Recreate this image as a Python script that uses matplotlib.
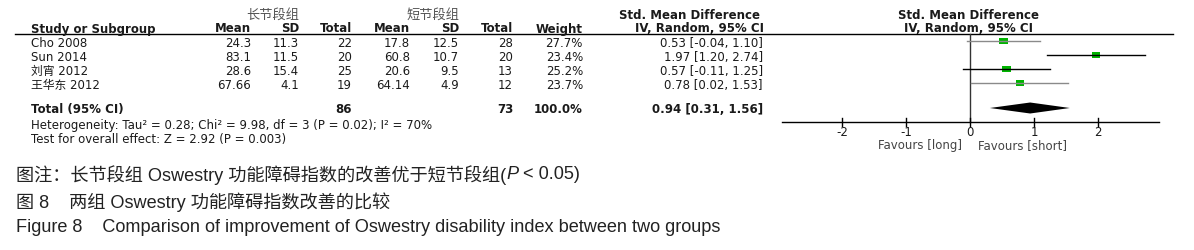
import matplotlib
matplotlib.use('Agg')
import matplotlib.pyplot as plt
from matplotlib.patches import Rectangle, Polygon

# data
studies = ['Cho 2008', 'Sun 2014', '刘宵 2012', '王华东 2012']
long_mean = ['24.3', '83.1', '28.6', '67.66']
long_sd = ['11.3', '11.5', '15.4', '4.1']
long_n = [22, 20, 25, 19]
short_mean = ['17.8', '60.8', '20.6', '64.14']
short_sd = ['12.5', '10.7', '9.5', '4.9']
short_n = [28, 20, 13, 12]
weight = [27.7, 23.4, 25.2, 23.7]
smd = [0.53, 1.97, 0.57, 0.78]
ci_lo = [-0.04, 1.20, -0.11, 0.02]
ci_hi = [1.10, 2.74, 1.25, 1.53]
ci_col = ['#8a8a8a', 'black', 'black', '#8a8a8a']
tot_smd, tot_lo, tot_hi = 0.94, 0.31, 1.56
ticks = [-2, -1, 0, 1, 2]

W, H = 1194, 251
fig = plt.figure(figsize=(W / 100, H / 100), dpi=100)
ax = fig.add_axes([0, 0, 1, 1])
ax.set_xlim(0, W)
ax.set_ylim(H, 0)
ax.axis('off')

tf = ['DejaVu Sans', 'Noto Sans CJK SC']
fs = 8.5
tc = '#1a1a1a'


def t(x, y, s, ha='left', bold=False, color=tc, size=fs, fam=tf):
    return ax.text(x, y, s, ha=ha, va='center', fontsize=size, color=color,
                   fontweight='bold' if bold else 'normal', family=fam)


# group headers
t(273, 15, '长节段组', ha='center', color='#555555', size=9.5, fam=['Noto Sans CJK SC'])
t(433, 15, '短节段组', ha='center', color='#555555', size=9.5, fam=['Noto Sans CJK SC'])
t(760, 15.5, 'Std. Mean Difference', ha='right', bold=True)
t(968, 15.5, 'Std. Mean Difference', ha='center', bold=True)

hy = 29
t(31, hy, 'Study or Subgroup', bold=True)
for x, s in [(251, 'Mean'), (299, 'SD'), (352, 'Total'), (410, 'Mean'),
             (459, 'SD'), (513, 'Total'), (583, 'Weight'),
             (764, 'IV, Random, 95% CI')]:
    t(x, hy, s, ha='right', bold=True)
t(969, hy, 'IV, Random, 95% CI', ha='center', bold=True)
ax.plot([15, 1173], [35, 35], color='black', lw=1)

rows = [43.5, 57.5, 71.5, 85.5]
for i, y in enumerate(rows):
    t(31, y, studies[i])
    t(251, y, long_mean[i], ha='right')
    t(299, y, long_sd[i], ha='right')
    t(352, y, str(long_n[i]), ha='right')
    t(410, y, short_mean[i], ha='right')
    t(459, y, short_sd[i], ha='right')
    t(513, y, str(short_n[i]), ha='right')
    t(583, y, '%.1f%%' % weight[i], ha='right')
    t(763, y, '%.2f [%.2f, %.2f]' % (smd[i], ci_lo[i], ci_hi[i]), ha='right')

ty = 110
t(31, ty, 'Total (95% CI)', bold=True)
t(352, ty, str(sum(long_n)), ha='right', bold=True)
t(513, ty, str(sum(short_n)), ha='right', bold=True)
t(583, ty, '100.0%', ha='right', bold=True)
t(763, ty, '%.2f [%.2f, %.2f]' % (tot_smd, tot_lo, tot_hi), ha='right', bold=True)
t(31, 126, 'Heterogeneity: Tau² = 0.28; Chi² = 9.98, df = 3 (P = 0.02); I² = 70%')
t(31, 140, 'Test for overall effect: Z = 2.92 (P = 0.003)')

# forest panel: x in SMD units, y in pixel rows
fx0, fx1 = 778, 1162
fa = fig.add_axes([fx0 / W, 0, (fx1 - fx0) / W, 1])
fa.set_xlim(-3, 3)
fa.set_ylim(H, 0)
fa.axis('off')
fa.plot([0, 0], [35, 123], color='#333333', lw=1)
fa.plot([-2.94, 2.96], [123, 123], color='black', lw=1)
for k in ticks:
    fa.plot([k, k], [119, 127], color='black', lw=1)
    fa.text(k, 133, str(k), ha='center', va='center', fontsize=fs, color=tc, family=tf)
fa.text(-0.12, 145.5, 'Favours [long]', ha='right', va='center', fontsize=fs,
        color='#444444', family=tf)
fa.text(0.12, 145.5, 'Favours [short]', ha='left', va='center', fontsize=fs,
        color='#444444', family=tf)

for i, y in enumerate(rows):
    ym = y - 1.5
    fa.plot([ci_lo[i], ci_hi[i]], [ym, ym], color=ci_col[i], lw=1)
    w = 0.135 * (weight[i] / 25.0) ** 0.5
    fa.add_patch(Rectangle((smd[i] - w / 2, ym - 2.6), w, 5.2, color='#00b400', lw=0))

dy = 109
fa.add_patch(Polygon([[tot_lo, dy], [tot_smd, dy - 5.5], [tot_hi, dy], [tot_smd, dy + 5.5]],
                     closed=True, color='black', lw=0))

# caption lines
cap_fam = ['Liberation Sans', 'Noto Sans CJK SC']
cs = 13.1
fig.canvas.draw()
r = fig.canvas.get_renderer()
inv = ax.transData.inverted()
a = ax.text(16, 175, '图注：长节段组 Oswestry 功能障碍指数的改善优于短节段组(', ha='left', va='center',
            fontsize=cs, color='#222222', family=cap_fam)
x2 = inv.transform((a.get_window_extent(renderer=r).x1, 0))[0]
b = ax.text(x2, 175, 'P', ha='left', va='center', fontsize=cs, color='#222222',
            family=cap_fam, style='italic')
x3 = inv.transform((b.get_window_extent(renderer=r).x1, 0))[0]
ax.text(x3, 175, ' < 0.05)', ha='left', va='center', fontsize=cs, color='#222222',
        family=cap_fam)

ax.text(16, 202, '图 8    两组 Oswestry 功能障碍指数改善的比较', ha='left', va='center',
        fontsize=cs, color='#222222', family=cap_fam)
ax.text(16, 228, 'Figure 8    Comparison of improvement of Oswestry disability index between two groups',
        ha='left', va='center', fontsize=cs, color='#222222', family=cap_fam)

fig.savefig('out.png', dpi=100)
